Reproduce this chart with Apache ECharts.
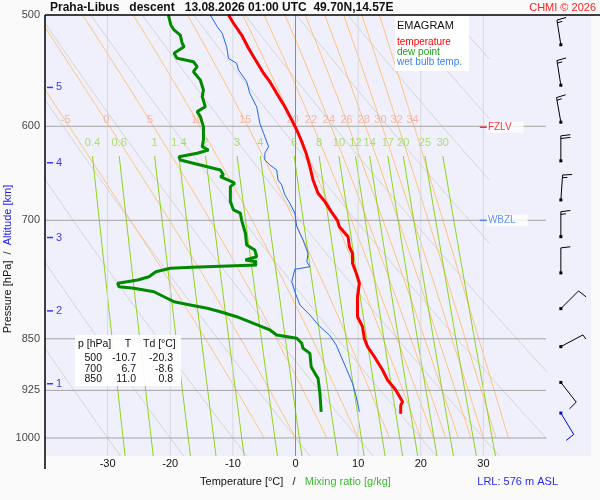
<!DOCTYPE html>
<html>
<head>
<meta charset="utf-8">
<script src="https://cdn.jsdelivr.net/npm/echarts@6/dist/echarts.min.js"></script>
<style>
  html, body { margin: 0; padding: 0; background: #fafafa; }
  #chart { width: 600px; height: 500px; }
</style>
</head>
<body>
<div id="chart"></div>
<script>
// sounding: pressure [hPa] / temperature [°C]
var tempP = [500, 506.8, 516.7, 528, 535.4, 542.7, 550.1, 557.7, 568.5, 581.1, 593.8, 603.7, 615.3, 627.2, 641.1, 655.2, 669.6, 678.9, 690.1, 700, 707.3, 719.1, 730.9, 738.9, 751.1, 763.5, 776.1, 793.4, 819.8, 833.3, 850, 861.1, 875.4, 894.6, 909.4, 924.5, 942.4, 948, 961];
var tempT = [-10.7, -9.9, -8.6, -7.5, -6.7, -5.9, -5.1, -4.1, -3.0, -1.7, -0.6, 0.2, 1.0, 1.7, 2.3, 2.8, 3.6, 4.7, 5.7, 6.7, 7.0, 8.4, 8.6, 9.1, 9.1, 9.7, 10.2, 9.9, 9.9, 10.7, 11.0, 11.5, 12.6, 13.9, 14.7, 16.0, 17.1, 16.8, 16.8];

var dewP = [500, 508.3, 512.4, 516.7, 523.7, 526.7, 532.4, 536.8, 539.8, 544.2, 548.7, 556.2, 565.4, 571.6, 581.1, 585.8, 590.6, 600.4, 613.6, 620.4, 623.8, 627.2, 630.7, 634.1, 639.3, 644.6, 649.9, 651.7, 657.0, 658.8, 662.4, 678.9, 688.2, 691.9, 700, 715.0, 728.9, 734.9, 743.0, 747.0, 749.1, 751.1, 753.2, 756.0, 757.3, 761.5, 767.8, 771.9, 776.1, 780.5, 782.5, 786.9, 793.4, 799.9, 804.2, 808.6, 813.1, 819.8, 828.7, 837.8, 844.7, 849.3, 856.3, 863.3, 870.5, 889.8, 899.5, 906.9, 929.5, 958.0];
var dewT = [-20.3, -19.9, -19.4, -18.4, -18.1, -17.8, -19.4, -18.9, -16.3, -15.7, -16.3, -15.2, -14.7, -14.9, -14.4, -15.7, -15.2, -14.7, -14.7, -14.9, -13.9, -15.7, -18.6, -18.4, -15.2, -12.0, -11.5, -12.0, -10.2, -9.7, -10.4, -10.4, -9.9, -8.8, -8.6, -8.0, -7.8, -6.5, -6.2, -8.0, -6.2, -6.7, -6.2, -16.5, -20.0, -22.3, -23.4, -25.2, -28.4, -28.2, -25.8, -22.6, -21.0, -19.4, -16.8, -14.1, -12.0, -9.4, -6.7, -4.1, -3.0, 0.2, 1.0, 1.2, 2.3, 2.5, 3.1, 3.6, 3.9, 4.1];

var wetP = [500, 509.7, 515.2, 526.7, 536.8, 541.2, 547.2, 557.7, 568.5, 581.1, 590.6, 597.1, 606.9, 620.4, 627.2, 634.1, 639.3, 644.6, 655.2, 660.6, 671.5, 680.7, 691.9, 707.3, 722.9, 738.9, 749.1, 755.3, 758.5, 774.1, 786.9, 804.2, 817.5, 833.3, 844.7, 858.7, 875.4, 892.1, 914.4, 934.7, 958.0];
var wetT = [-13.6, -12.5, -11.7, -11.0, -10.7, -9.4, -9.1, -7.8, -7.3, -6.2, -5.9, -5.7, -5.1, -4.3, -4.9, -4.9, -4.1, -3.0, -2.8, -2.2, -1.7, -0.9, -0.1, 0.2, 1.2, 2.0, 1.8, 2.3, -0.1, -0.6, -0.1, 0.7, 2.3, 3.9, 5.4, 6.5, 7.3, 8.1, 9.1, 9.7, 10.2];

// wind barbs: level, direction [deg], speed [kt]; last one is the surface
var windP = [525, 561, 596, 635, 677, 719, 763, 809, 861, 913, 960];
var windDir = [351, 351, 350, 0, 4, 0, 0, 45, 62, 142, 149];
var windKt = [15, 15, 15, 20, 15, 15, 10, 10, 5, 10, 10];

// axes
var pressureLabels = [500, 600, 700, 850, 925, 1000];
var isobars = [600, 700, 850, 925, 1000];
var isotherms = [-30, -20, -10, 0, 10, 20, 30];
var altKm = [5, 4, 3, 2, 1];
var altP = [563, 637, 720, 812, 915];

// diagram lines
var dryTheta = [-30, -20, -10, 0, 10, 20, 30, 40, 50, 60, 70, 80, 90];
var moistThetaW = [-5, 0, 5, 10, 15, 20, 22, 24, 26, 28, 30, 32, 34];
var moistLabels = [-5, 0, 5, 10, 15, 20, 22, 24, 26, 28, 30, 32, 34];
var mixRatio = [0.4, 0.6, 1, 1.4, 2, 3, 4, 6, 8, 10, 12, 14, 17, 20, 25, 30];

// table and levels
var tabP = [500, 700, 850];
var tabT = [-10.7, 6.7, 11.0];
var tabTd = [-20.3, -8.6, 0.8];
var fzlvP = 601;
var wbzlP = 700;

var FONT = 'Liberation Sans, Arial, sans-serif';

function esat(t) { return 6.112 * Math.exp(17.67 * t / (t + 243.5)); }

function dTdp(T, p) {
  var es = esat(T - 273.15), rs = 0.622 * es / (p - es);
  var Rd = 287.04, cp = 1005.7, L = 2.501e6;
  return (Rd * T + L * rs) / (p * (cp + L * L * rs * 0.622 / (Rd * T * T)));
}

function moistCurve(tw) {
  var T = tw + 273.15, p = 1000, dp = -5, pts = [[tw, 1000]];
  while (p > 500) {
    var k1 = dTdp(T, p);
    var k2 = dTdp(T + k1 * dp / 2, p + dp / 2);
    T += k2 * dp; p += dp;
    pts.push([T - 273.15, p]);
  }
  return pts;
}

function dryCurve(th) {
  var K = th + 273.15, maxT = th <= 50 ? 45 : 31, pts = [];
  for (var p = 500; p <= 1030; p += 5) {
    var t = K * Math.pow(p / 1000, 0.2857) - 273.15;
    if (t > maxT) {
      pts.push([maxT, 1000 * Math.pow((maxT + 273.15) / K, 1 / 0.2857)]);
      break;
    }
    pts.push([t, p]);
  }
  return pts;
}

function mixTd(w, p) {
  var e = w * p / (622 + w), l = Math.log(e / 6.112);
  return 243.5 * l / (17.67 - l);
}

function zip(ps, ts) { return ps.map(function (p, i) { return [ts[i], p]; }); }

var series = [];
function addLine(data, color, width, z) {
  series.push({
    type: 'line', data: data, symbol: 'none', silent: true, animation: false,
    lineStyle: { color: color, width: width }, z: z
  });
}

dryTheta.forEach(function (th) { addLine(dryCurve(th), '#d4d4d4', 1, 1); });

var moistLabelData = [];
moistThetaW.forEach(function (tw) {
  var c = moistCurve(tw);
  addLine(c, '#ffc27a', 1, 1);
  if (moistLabels.indexOf(tw) >= 0) moistLabelData.push([c[81][0], 594, String(tw)]);
});

var mixLabelData = [];
mixRatio.forEach(function (w) {
  var pts = [];
  for (var p = 630; p <= 1030; p += 20) pts.push([mixTd(w, p), p]);
  addLine(pts, '#8fd21c', 1, 1);
  mixLabelData.push([mixTd(w, 630), 630, String(w)]);
});

isotherms.forEach(function (t) {
  addLine([[t, 500], [t, 1030]], t === 0 ? '#8c8c8c' : '#d8d8d8', 1, 2);
});
isobars.forEach(function (p) {
  addLine([[-40, p], [40, p]], '#a4a4a4', 1, 2);
});

addLine(zip(wetP, wetT), '#1a66ee', 1, 5);
addLine(zip(dewP, dewT), '#008a00', 3, 5);
addLine(zip(tempP, tempT), '#ff0000', 3, 6);

function textSeries(data, label, extra) {
  var s = {
    type: 'scatter', data: data, symbolSize: 0, silent: true, animation: false, clip: false, z: 4,
    label: Object.assign({ show: true, fontFamily: FONT, formatter: function (q) { return q.value[2]; } }, label)
  };
  return Object.assign(s, extra || {});
}

series.push(textSeries(moistLabelData, { position: 'inside', color: '#f6a88e', fontSize: 11 }, { z: 3 }));
series.push(textSeries(mixLabelData, { position: 'top', distance: 8, color: '#9ad84a', fontSize: 11 }, { z: 3 }));
series.push(textSeries(pressureLabels.map(function (p) { return [-40, p, String(p)]; }),
  { position: 'left', distance: 5, color: '#111', fontSize: 11 }));
series.push({
  type: 'scatter', data: altP.map(function (p) { return [-40, p]; }), symbol: 'rect', symbolSize: [6, 1.5],
  symbolOffset: [5, 0], itemStyle: { color: '#0a0ae6' }, silent: true, animation: false, clip: false, z: 4
});
series.push(textSeries(altP.map(function (p, i) { return [-40, p, String(altKm[i])]; }),
  { position: 'right', distance: 11, color: '#0a0ae6', fontSize: 11 }));

function levelMark(p, text, color) {
  return {
    type: 'scatter', data: [[30, p, text]], symbol: 'rect', symbolSize: [7, 1.5],
    itemStyle: { color: color }, silent: true, animation: false, z: 4,
    label: {
      show: true, position: 'right', distance: 0, formatter: function (q) { return q.value[2]; },
      color: color, fontSize: 10, fontFamily: FONT, backgroundColor: '#fff', padding: [1, 12, 0, 1]
    }
  };
}
series.push(levelMark(fzlvP, 'FZLV', '#ff0000'));
series.push(levelMark(wbzlP, 'WBZL', '#3c78f0'));

function renderBarb(params, api) {
  var c = api.coord([api.value(0), api.value(1)]);
  var a = api.value(2) * Math.PI / 180, kt = api.value(3);
  var col = api.value(4) ? '#0000ee' : '#000';
  var ux = Math.sin(a), uy = -Math.cos(a), px = -uy, py = ux;
  var L = 25, tx = c[0] + ux * L, ty = c[1] + uy * L;
  var kids = [
    { type: 'line', shape: { x1: c[0], y1: c[1], x2: tx, y2: ty }, style: { stroke: col, lineWidth: 1 } },
    { type: 'rect', shape: { x: c[0] - 1.5, y: c[1] - 1.5, width: 3, height: 3 }, style: { fill: col } }
  ];
  function barb(off, len) {
    var bx = tx - ux * off, by = ty - uy * off;
    kids.push({
      type: 'line',
      shape: { x1: bx, y1: by, x2: bx + (px + ux * 0.12) * len, y2: by + (py + uy * 0.12) * len },
      style: { stroke: col, lineWidth: 1 }
    });
  }
  var off = 0, left = kt;
  while (left >= 10) { barb(off, 9.5); off += 2.7; left -= 10; }
  if (left >= 5) barb(off, 5);
  return { type: 'group', children: kids };
}

series.push({
  type: 'custom', xAxisIndex: 1, yAxisIndex: 1, clip: false, silent: true, animation: false,
  renderItem: renderBarb, encode: { x: 0, y: 1 },
  data: windP.map(function (p, i) { return [0.33, p, windDir[i], windKt[i], i === windP.length - 1 ? 1 : 0]; })
});

// graphic texts
var graphic = [
  { type: 'line', shape: { x1: 45, y1: 15, x2: 600, y2: 15 }, style: { stroke: '#000', lineWidth: 1.5 }, z: 100 },
  { type: 'line', shape: { x1: 45, y1: 15, x2: 45, y2: 469 }, style: { stroke: '#000', lineWidth: 1.5 }, z: 100 },
  { type: 'text', x: 50, y: 8, z: 100, style: { text: 'Praha-Libus   descent   13.08.2026 01:00 UTC  49.70N,14.57E', font: 'bold 12px ' + FONT, fill: '#111', verticalAlign: 'middle' } },
  { type: 'text', x: 596, y: 8, z: 100, style: { text: 'CHMI © 2026', font: '11px ' + FONT, fill: '#ff2020', align: 'right', verticalAlign: 'middle' } },
  { type: 'text', x: 558, y: 482, z: 100, style: { text: 'LRL: 576 m ASL', font: '11px ' + FONT, fill: '#2a2ae8', align: 'right', verticalAlign: 'middle' } },
  {
    type: 'text', x: 8, y: 259, rotation: Math.PI / 2, z: 100,
    style: {
      text: '{a|Pressure [hPa]}  /  {b|Altitude [km]}', font: '11px ' + FONT, fill: '#111', align: 'center', verticalAlign: 'middle',
      rich: { a: { fill: '#111', font: '11px ' + FONT }, b: { fill: '#1a1ae8', font: '11px ' + FONT } }
    }
  },
  { type: 'rect', shape: { x: 395, y: 16, width: 74, height: 55 }, style: { fill: '#ffffff' }, z: 90 },
  { type: 'text', x: 397, y: 26, z: 100, style: { text: 'EMAGRAM', font: '11px ' + FONT, fill: '#111', verticalAlign: 'middle' } },
  { type: 'text', x: 397, y: 42, z: 100, style: { text: 'temperature', font: '10px ' + FONT, fill: '#ff0000', verticalAlign: 'middle' } },
  { type: 'text', x: 397, y: 52, z: 100, style: { text: 'dew point', font: '10px ' + FONT, fill: '#22a022', verticalAlign: 'middle' } },
  { type: 'text', x: 397, y: 62, z: 100, style: { text: 'wet bulb temp.', font: '10px ' + FONT, fill: '#3a80f0', verticalAlign: 'middle' } },
  { type: 'rect', shape: { x: 75, y: 335, width: 106, height: 51 }, style: { fill: 'rgba(255,255,255,0.9)' }, z: 90 },
  { type: 'text', x: 78, y: 344, z: 100, style: { text: 'p [hPa]', font: '10.5px ' + FONT, fill: '#111', verticalAlign: 'middle' } },
  { type: 'text', x: 128, y: 344, z: 100, style: { text: 'T', font: '10.5px ' + FONT, fill: '#111', align: 'center', verticalAlign: 'middle' } },
  { type: 'text', x: 143, y: 344, z: 100, style: { text: 'Td [°C]', font: '10.5px ' + FONT, fill: '#111', verticalAlign: 'middle' } }
];
tabP.forEach(function (p, i) {
  var y = 358.5 + i * 10.3;
  [[102, String(p)], [136, tabT[i].toFixed(1)], [173, tabTd[i].toFixed(1)]].forEach(function (c) {
    graphic.push({ type: 'text', x: c[0], y: y, z: 100, style: { text: c[1], font: '10.5px ' + FONT, fill: '#111', align: 'right', verticalAlign: 'middle' } });
  });
});

var chart = echarts.init(document.getElementById('chart'));
chart.setOption({
  backgroundColor: '#fafafa',
  animation: false,
  textStyle: { fontFamily: FONT },
  grid: [
    { left: 45, right: 54, top: 15, bottom: 44, show: true, backgroundColor: '#f0f0fd', borderWidth: 0 },
    { left: 546, right: 9, top: 15, bottom: 44, show: true, backgroundColor: '#f0f0fd', borderWidth: 0 }
  ],
  xAxis: [
    {
      type: 'value', min: -40, max: 40, interval: 10, gridIndex: 0,
      axisLine: { show: false }, axisTick: { show: false }, splitLine: { show: false },
      axisLabel: {
        margin: 2, fontSize: 11, color: '#111',
        formatter: function (v) { return Math.abs(v) === 40 ? '' : String(v); }
      },
      name: '{a|Temperature [°C]}   /   {b|Mixing ratio [g/kg]}',
      nameLocation: 'middle', nameGap: 20,
      nameTextStyle: { fontSize: 11, color: '#111', rich: { a: { fontSize: 11, color: '#111' }, b: { fontSize: 11, color: '#3cb832' } } }
    },
    { type: 'value', min: 0, max: 1, gridIndex: 1, show: false }
  ],
  yAxis: [
    {
      type: 'log', min: 500, max: 1030, inverse: true, gridIndex: 0,
      axisLine: { show: false }, axisTick: { show: false }, axisLabel: { show: false }, splitLine: { show: false }
    },
    { type: 'log', min: 500, max: 1030, inverse: true, gridIndex: 1, show: false }
  ],
  graphic: graphic,
  series: series
});
</script>
</body>
</html>
